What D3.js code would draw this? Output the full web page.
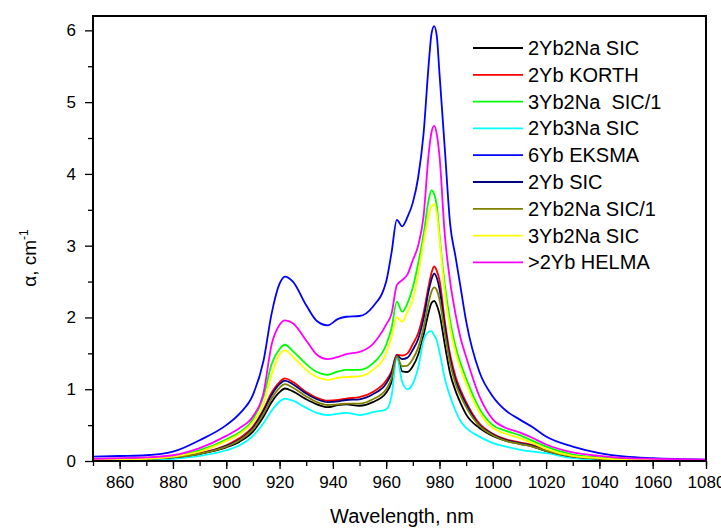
<!DOCTYPE html>
<html>
<head>
<meta charset="utf-8">
<script src="https://cdn.jsdelivr.net/npm/d3@7"></script>
<style>
  body { margin: 0; background: #fff; }
  svg { font-family: "Liberation Sans", Arial, sans-serif; }
</style>
</head>
<body>
<svg id="chart" width="721" height="530"></svg>
<script>
// wavelength grid (nm)
const wavelengths = [850, 860, 870, 880, 890, 900, 905, 910, 914, 917, 920, 922, 925, 930, 934, 938, 942, 945, 950, 955,
  960, 962, 964, 966, 968, 970, 972, 974, 976, 977, 978, 979, 980, 982, 984, 986, 988, 990, 995, 1000,
  1005, 1010, 1015, 1020, 1030, 1040, 1050, 1060, 1080]

const seriesNames = ['2Yb2Na SIC', '2Yb KORTH', '3Yb2Na  SIC/1', '2Yb3Na SIC', '6Yb EKSMA', '2Yb SIC', '2Yb2Na SIC/1', '3Yb2Na SIC', '>2Yb HELMA']
const seriesColors = ['#000000', '#ff0000', '#00ff00', '#00ffff', '#0000ff', '#000080', '#808000', '#ffff00', '#ff00ff']

// absorption coefficient, cm^-1
const yb2na_sic = [.02, .02, .03, .05, .10, .19, .27, .41, .62, .82, .96, 1.01, .97, .86, .79, .75, .78, .79, .77, .82,
  .95, 1.10, 1.46, 1.25, 1.24, 1.32, 1.48, 1.75, 2.08, 2.20, 2.23, 2.17, 2.05, 1.62, 1.22, .98, .80, .65, .46, .35,
  .28, .24, .20, .14, .06, .03, .02, .01, .01]
const yb_korth = [.02, .02, .03, .05, .11, .22, .32, .48, .72, .95, 1.10, 1.15, 1.10, .96, .88, .84, .85, .87, .89, .96,
  1.12, 1.25, 1.48, 1.47, 1.50, 1.63, 1.78, 2.06, 2.45, 2.62, 2.71, 2.65, 2.52, 1.95, 1.48, 1.18, .98, .82, .52, .38,
  .30, .26, .22, .15, .06, .03, .02, .01, .01]
const yb3na2_sic1 = [.02, .03, .04, .07, .15, .30, .40, .58, .90, 1.35, 1.56, 1.62, 1.53, 1.35, 1.24, 1.20, 1.25, 1.27, 1.27, 1.36,
  1.62, 1.85, 2.22, 2.08, 2.20, 2.42, 2.75, 3.15, 3.65, 3.77, 3.72, 3.55, 3.15, 2.45, 1.95, 1.60, 1.35, 1.15, .73, .50,
  .42, .36, .28, .20, .09, .05, .03, .02, .01]
const yb2na3_sic = [.01, .01, .02, .03, .07, .15, .22, .35, .53, .70, .83, .87, .84, .74, .67, .64, .66, .67, .64, .68,
  .72, .90, 1.45, 1.10, 1.00, 1.08, 1.30, 1.68, 1.80, 1.81, 1.75, 1.68, 1.52, 1.15, .90, .70, .55, .46, .34, .25,
  .20, .16, .13, .11, .04, .02, .01, .01, .00]
const yb6_eksma = [.06, .07, .08, .13, .29, .50, .66, .92, 1.40, 2.05, 2.47, 2.57, 2.50, 2.17, 1.95, 1.89, 1.98, 2.01, 2.02, 2.15,
  2.50, 2.90, 3.36, 3.27, 3.40, 3.60, 3.95, 4.55, 5.55, 5.95, 6.06, 5.92, 5.40, 4.35, 3.30, 2.85, 2.40, 1.95, 1.24, .90,
  .70, .58, .47, .34, .20, .11, .06, .04, .02]
const yb2_sic = [.02, .02, .03, .05, .10, .21, .30, .46, .70, .92, 1.07, 1.12, 1.07, .94, .86, .82, .83, .85, .86, .93,
  1.08, 1.22, 1.47, 1.42, 1.44, 1.55, 1.70, 1.98, 2.38, 2.53, 2.61, 2.55, 2.40, 1.88, 1.42, 1.13, .94, .79, .50, .37,
  .29, .25, .21, .14, .06, .03, .02, .01, .01]
const yb2na_sic1 = [.02, .02, .03, .05, .10, .20, .29, .44, .66, .87, 1.02, 1.07, 1.02, .90, .82, .78, .79, .80, .80, .86,
  1.00, 1.15, 1.46, 1.32, 1.33, 1.42, 1.58, 1.85, 2.22, 2.36, 2.42, 2.38, 2.25, 1.78, 1.36, 1.08, .90, .75, .49, .36,
  .28, .24, .20, .14, .06, .03, .02, .01, .01]
const yb3na2_sic = [.02, .02, .03, .06, .13, .28, .38, .54, .80, 1.20, 1.48, 1.54, 1.45, 1.27, 1.17, 1.13, 1.16, 1.17, 1.18, 1.27,
  1.50, 1.72, 2.00, 1.94, 2.08, 2.25, 2.60, 3.05, 3.42, 3.55, 3.58, 3.45, 3.10, 2.35, 1.85, 1.52, 1.28, 1.08, .68, .46,
  .38, .32, .25, .17, .07, .04, .02, .02, .01]
const yb_helma = [.03, .04, .05, .08, .18, .35, .46, .62, .95, 1.62, 1.90, 1.96, 1.92, 1.68, 1.48, 1.42, 1.45, 1.49, 1.52, 1.63,
  1.90, 2.05, 2.45, 2.52, 2.60, 2.80, 3.00, 3.40, 4.30, 4.58, 4.67, 4.55, 4.25, 3.15, 2.50, 2.05, 1.70, 1.45, .90, .58,
  .46, .40, .32, .23, .12, .07, .04, .03, .02]

const seriesValues = [yb2na_sic, yb_korth, yb3na2_sic1, yb2na3_sic, yb6_eksma, yb2_sic, yb2na_sic1, yb3na2_sic, yb_helma]

const xTicks = d3.range(860, 1081, 20)
const yTicks = d3.range(0, 7, 1)

const svg = d3.select('#chart')
const width = +svg.attr('width')
const height = +svg.attr('height')
const margin = { top: 16, right: 15, bottom: 69, left: 93 }
const innerW = width - margin.left - margin.right
const innerH = height - margin.top - margin.bottom

const xScale = d3.scaleLinear().domain([850, 1080]).range([0, innerW])
const yScale = d3.scaleLinear().domain([0, 6.2]).range([innerH, 0])

const g = svg.append('g').attr('transform', `translate(${margin.left},${margin.top})`)

// curves
const line = d3.line()
  .x((d, i) => xScale(wavelengths[i]))
  .y(d => yScale(d))
  .curve(d3.curveMonotoneX)

seriesValues.forEach((vals, k) => {
  g.append('path')
    .attr('d', line(vals))
    .attr('fill', 'none')
    .attr('stroke', seriesColors[k])
    .attr('stroke-width', 1.8)
})

// minor ticks
const xMinor = d3.axisBottom(xScale).tickValues(d3.range(850, 1081, 10)).tickSize(5).tickFormat('')
const yMinor = d3.axisLeft(yScale).tickValues(d3.range(0.5, 6.1, 1)).tickSize(5).tickFormat('')
g.append('g').attr('transform', `translate(0,${innerH})`).call(xMinor)
g.append('g').call(yMinor)

// major axes
const xAxis = d3.axisBottom(xScale).tickValues(xTicks).tickSize(8).tickPadding(7).tickFormat(d3.format('d'))
const yAxis = d3.axisLeft(yScale).tickValues(yTicks).tickSize(8).tickPadding(9).tickFormat(d3.format('d'))

const xAxisG = g.append('g').attr('transform', `translate(0,${innerH})`).call(xAxis)
  .style('font-size', '17px').style('font-family', '"Liberation Sans", Arial, sans-serif')
const yAxisG = g.append('g').call(yAxis)
  .style('font-size', '17px').style('font-family', '"Liberation Sans", Arial, sans-serif')

g.selectAll('.domain').remove()
g.selectAll('.tick line').attr('stroke', '#000').attr('stroke-width', 1.3)
g.selectAll('.tick text').attr('fill', '#000')

// frame
g.append('rect')
  .attr('width', innerW).attr('height', innerH)
  .attr('fill', 'none').attr('stroke', '#000').attr('stroke-width', 2)

// axis titles
svg.append('text')
  .attr('x', 402)
  .attr('y', 523)
  .attr('text-anchor', 'middle')
  .attr('font-size', '20px')
  .text('Wavelength, nm')

const yTitle = svg.append('text')
  .attr('transform', 'translate(36,258) rotate(-90)')
  .attr('text-anchor', 'middle')
  .attr('font-size', '19px')
yTitle.append('tspan').text('α, cm')
yTitle.append('tspan').attr('dy', -8).attr('font-size', '12px').text('-1')

// legend
const legend = svg.append('g')
seriesNames.forEach((name, k) => {
  const yy = 48 + k * 26.8
  legend.append('line')
    .attr('x1', 473).attr('x2', 523).attr('y1', yy).attr('y2', yy)
    .attr('stroke', seriesColors[k]).attr('stroke-width', 1.8)
  legend.append('text')
    .attr('x', 528).attr('y', yy)
    .attr('dominant-baseline', 'central')
    .attr('font-size', '20px')
    .style('white-space', 'pre')
    .text(name)
})
</script>
</body>
</html>
